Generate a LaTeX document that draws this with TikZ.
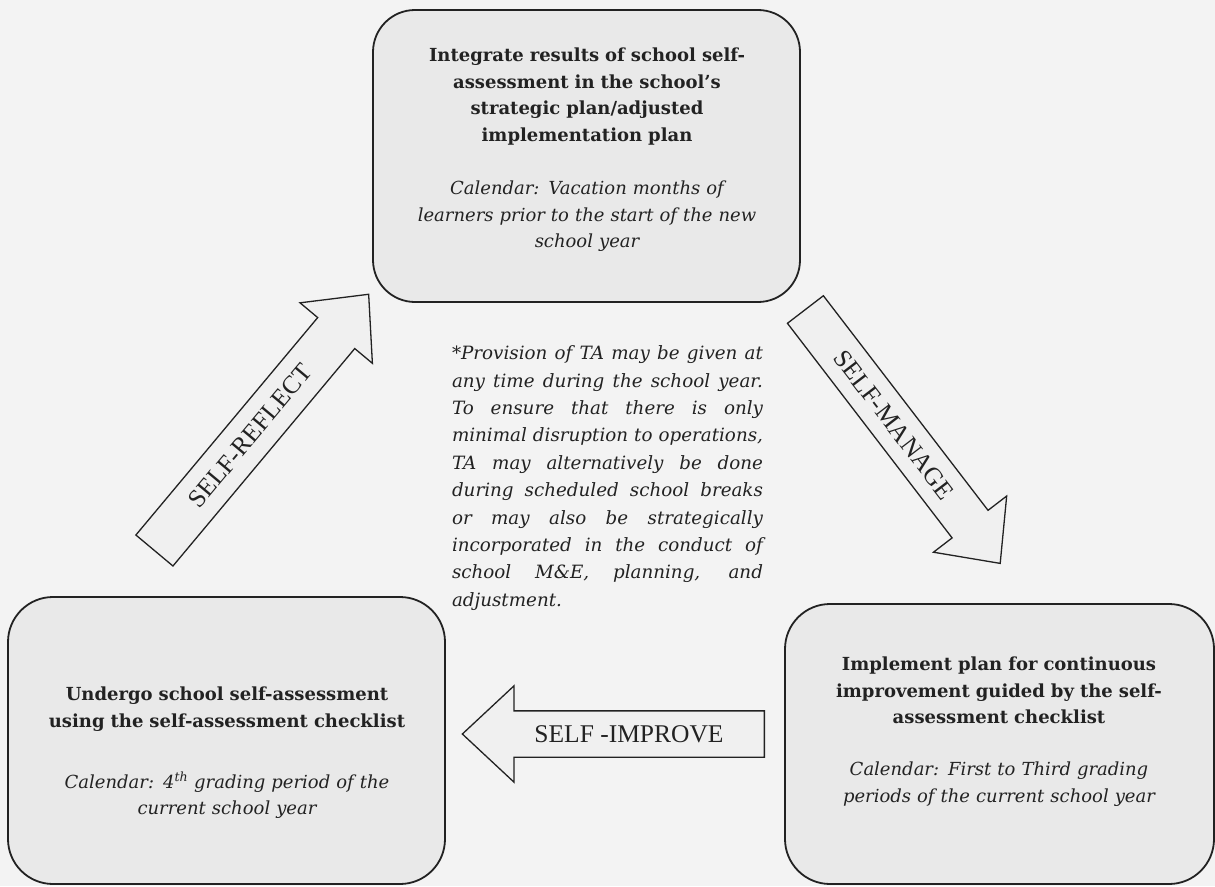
\documentclass[tikz,border=0pt]{standalone}
\usepackage{fontspec}
\setmainfont{DejaVu Serif}
\newfontfamily\labelfont{Liberation Serif}
\usetikzlibrary{shapes.arrows}
\definecolor{bg}{HTML}{F3F3F3}
\definecolor{boxfill}{HTML}{E9E9E9}
\definecolor{arrowfill}{HTML}{F0F0F0}
\definecolor{ink}{HTML}{222222}
\newcommand{\jline}[1]{\makebox[311pt][s]{\spaceskip=0pt\xspaceskip=0pt #1}}
\begin{document}
\begin{tikzpicture}[x=1pt,y=-1pt,
  stagebox/.style={draw=ink, line width=1.8pt, rounded corners=42pt, fill=boxfill, inner sep=0pt},
  boxtext/.style={align=center, text=ink, inner sep=0pt, text width=440pt, font=\fontsize{18}{26.6}\selectfont},
  notetext/.style={align=left, text=ink, inner sep=0pt, text width=311pt, font=\fontsize{18.3}{27.4}\selectfont\itshape},
  bigarrow/.style={single arrow, draw=ink, line width=1.3pt, fill=arrowfill, inner xsep=0pt,
    text height=18pt, text depth=0pt, single arrow tip angle=86, single arrow head indent=0pt},
  arrowlabel/.style={text=ink, inner sep=0pt, font=\labelfont\fontsize{25.5}{25.5}\selectfont}
]
\useasboundingbox (0,0) rectangle (1215,886);
\fill[bg] (0,0) rectangle (1215,886);

% stage boxes
\node[stagebox, minimum width=427pt, minimum height=292pt] (topbox) at (586.5,156) {};
\node[stagebox, minimum width=437pt, minimum height=287pt, rounded corners=45pt] (leftbox) at (226.5,740.5) {};
\node[stagebox, minimum width=429pt, minimum height=280pt, rounded corners=45pt] (rightbox) at (999.5,744) {};

% box texts
\node[boxtext] (toptext) at (587,150) {{\bfseries Integrate results of school self-\\assessment in the school's\\strategic plan/adjusted\\implementation plan}\\[26.6pt]
{\itshape Calendar: Vacation months of\\learners prior to the start of the new\\school year}};

\node[boxtext] (lefttext) at (227,753) {{\bfseries Undergo school self-assessment\\using the self-assessment checklist}\\[34pt]
{\itshape Calendar: 4\textsuperscript{th} grading period of the\\current school year}};

\node[boxtext] (righttext) at (999,731.5) {{\bfseries Implement plan for continuous\\improvement guided by the self-\\assessment checklist}\\[25pt]
{\itshape Calendar: First to Third grading\\periods of the current school year}};

% note
\node[notetext] (note) at (607.5,478) {\jline{*Provision of TA may be given at}\\
\jline{any time during the school year.}\\
\jline{To ensure that there is only}\\
\jline{minimal disruption to operations,}\\
\jline{TA may alternatively be done}\\
\jline{during scheduled school breaks}\\
\jline{or may also be strategically}\\
\jline{incorporated in the conduct of}\\
\jline{school M\&E, planning, and}\\
adjustment.};

% block arrows
\node[bigarrow, rotate=50.1, anchor=tail, minimum height=334pt, inner ysep=14.5pt, single arrow head extend=23pt] (reflect) at (154,551) {};
\node[arrowlabel, rotate=50.1] (reflectlbl) at (250,436) {SELF-REFLECT};

\node[bigarrow, rotate=-52.5, anchor=tail, minimum height=320pt, inner ysep=13pt, single arrow head extend=23.5pt] (manage) at (805,309) {};
\node[arrowlabel, rotate=-52.5] (managelbl) at (894,425) {SELF-MANAGE};

\node[bigarrow, rotate=180, anchor=tail, minimum height=302pt, inner ysep=13.5pt, single arrow head extend=25pt] (improve) at (765,734) {};
\node[arrowlabel] (improvelbl) at (629,734) {SELF -IMPROVE};
\end{tikzpicture}
\end{document}
